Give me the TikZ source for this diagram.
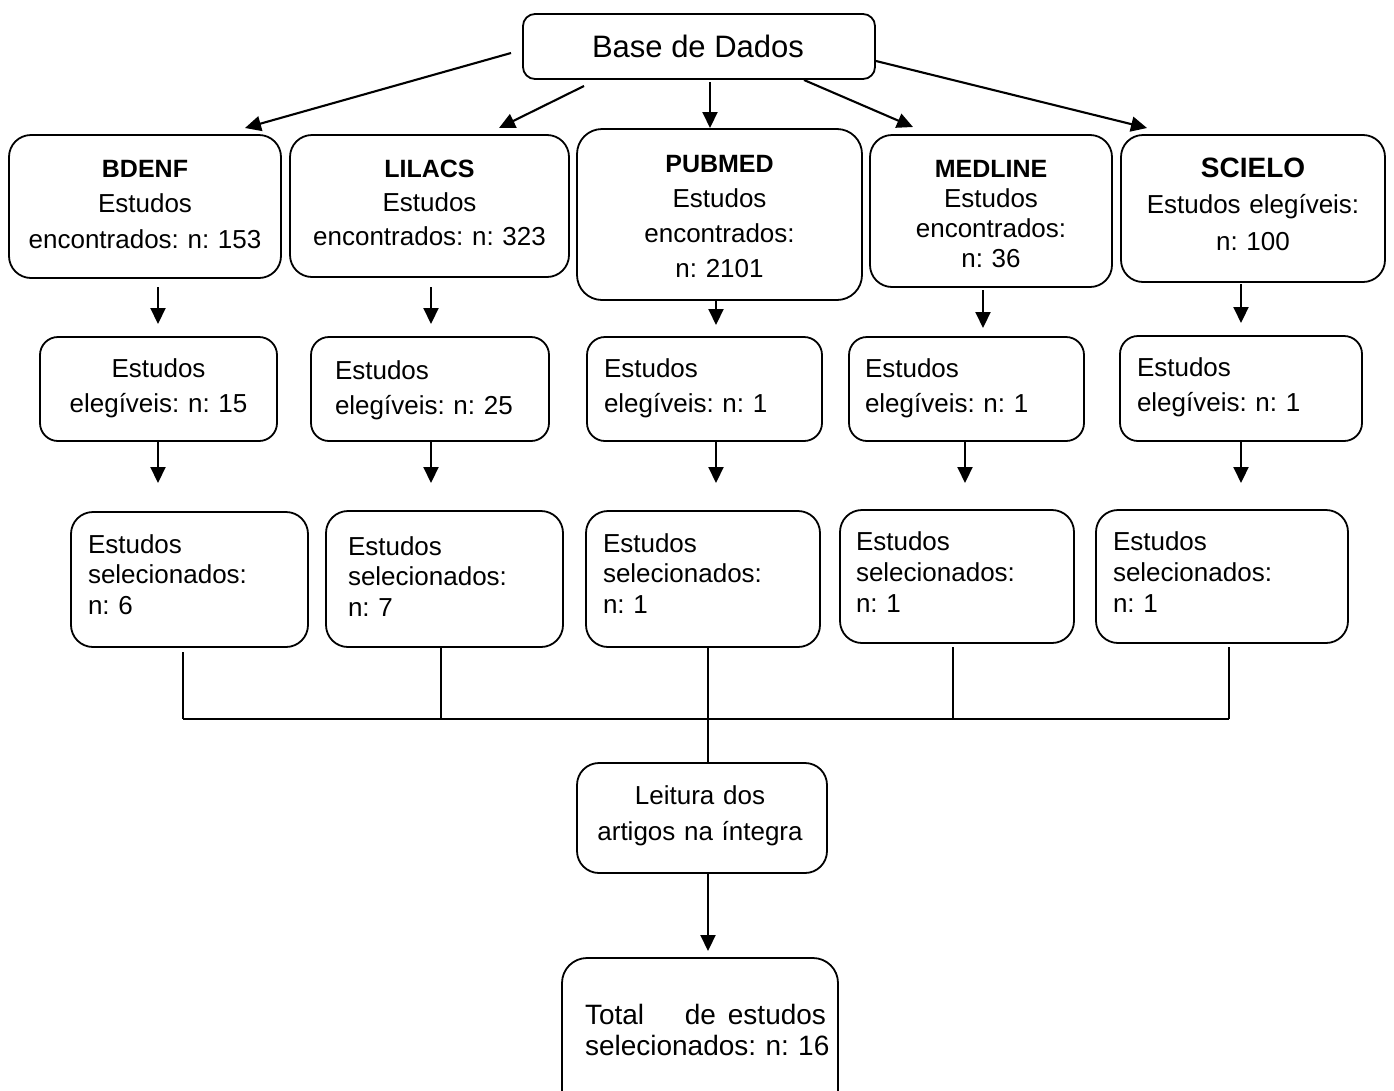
\documentclass[tikz,border=0pt]{standalone}
\usepackage{fontspec}
\setmainfont{Liberation Sans}
\usetikzlibrary{arrows.meta,calc}
\frenchspacing
\begin{document}
\frenchspacing
\begin{tikzpicture}[x=1pt,y=-1pt,
  box/.style={draw, line width=1.8pt, rounded corners=#1, inner sep=0pt, outer sep=0pt},
  box/.default=20pt,
  txt/.style={inner sep=0pt, outer sep=0pt, font=\fontsize{26}{35}\selectfont},
  arr/.style={line width=2.1pt, -{Triangle[length=16pt,width=15pt]}},
  lnk/.style={line width=1.4pt},
]
\fill[white] (0,0) rectangle (1394,1090);
\useasboundingbox (0,0) rectangle (1394,1090);

% ---------- boxes ----------
\node[box=12pt, minimum width=352pt, minimum height=65pt] (base) at (699,46.5) {};

\node[box=22pt, minimum width=272pt, minimum height=143pt] (r1a) at (145,206.5) {};
\node[box=22pt, minimum width=279pt, minimum height=142pt] (r1b) at (429.5,206) {};
\node[box=25pt, minimum width=285pt, minimum height=171pt] (r1c) at (719.5,214.5) {};
\node[box=22pt, minimum width=242pt, minimum height=152pt] (r1d) at (991,211) {};
\node[box=22pt, minimum width=264pt, minimum height=147pt] (r1e) at (1253,208.5) {};

\node[box=18pt, minimum width=237pt, minimum height=104pt] (r2a) at (158.5,389) {};
\node[box=18pt, minimum width=238pt, minimum height=104pt] (r2b) at (430,389) {};
\node[box=18pt, minimum width=235pt, minimum height=104pt] (r2c) at (704.5,389) {};
\node[box=18pt, minimum width=235pt, minimum height=104pt] (r2d) at (966.5,389) {};
\node[box=18pt, minimum width=242pt, minimum height=105pt] (r2e) at (1241,388.5) {};

\node[box=22pt, minimum width=237pt, minimum height=135pt] (r3a) at (189.5,579.5) {};
\node[box=22pt, minimum width=237pt, minimum height=136pt] (r3b) at (444.5,579) {};
\node[box=22pt, minimum width=234pt, minimum height=136pt] (r3c) at (703,579) {};
\node[box=22pt, minimum width=234pt, minimum height=133pt] (r3d) at (957,576.5) {};
\node[box=22pt, minimum width=252pt, minimum height=133pt] (r3e) at (1222,576.5) {};

\node[box=22pt, minimum width=250pt, minimum height=110pt] (lei) at (702,818) {};
\node[box=25pt, minimum width=276pt, minimum height=167pt] (tot) at (700,1041.5) {};

% ---------- texts ----------
\node[txt, anchor=base, font=\fontsize{31}{36}\selectfont] (tbase) at (698,57) {Base de Dados};

\node[txt, anchor=base, text width=268pt, align=center, font=\fontsize{26}{35.5}\selectfont] (t1a) at (145,177)
  {{\fontsize{25}{35.5}\selectfont\bfseries BDENF}\\Estudos\\encontrados: n: 153};
\node[txt, anchor=base, text width=275pt, align=center, font=\fontsize{26}{34}\selectfont] (t1b) at (429.5,177)
  {{\fontsize{25}{34}\selectfont\bfseries LILACS}\\Estudos\\encontrados: n: 323};
\node[txt, anchor=base, text width=280pt, align=center, font=\fontsize{26}{35.3}\selectfont] (t1c) at (719.5,172)
  {{\fontsize{25}{35.3}\selectfont\bfseries PUBMED}\\Estudos\\encontrados:\\n: 2101};
\node[txt, anchor=base, text width=238pt, align=center, font=\fontsize{26}{30.3}\selectfont] (t1d) at (991,177)
  {{\fontsize{25}{30.3}\selectfont\bfseries MEDLINE}\\Estudos\\encontrados:\\n: 36};
\node[txt, anchor=base, text width=260pt, align=center, font=\fontsize{26}{36.5}\selectfont] (t1e) at (1253,177)
  {{\fontsize{28}{36.5}\selectfont\bfseries SCIELO}\\Estudos elegíveis:\\n: 100};

\node[txt, anchor=base, text width=233pt, align=center] (t2a) at (158.5,377) {Estudos\\elegíveis: n: 15};
\node[txt, anchor=base west, text width=205pt, align=left] (t2b) at (335,379) {Estudos\\elegíveis: n: 25};
\node[txt, anchor=base west, text width=205pt, align=left] (t2c) at (604,377) {Estudos\\elegíveis: n: 1};
\node[txt, anchor=base west, text width=205pt, align=left] (t2d) at (865,377) {Estudos\\elegíveis: n: 1};
\node[txt, anchor=base west, text width=205pt, align=left] (t2e) at (1137,376) {Estudos\\elegíveis: n: 1};

\node[txt, anchor=base west, text width=205pt, align=left, font=\fontsize{26}{30.5}\selectfont] (t3a) at (88,553) {Estudos\\selecionados:\\n: 6};
\node[txt, anchor=base west, text width=205pt, align=left, font=\fontsize{26}{30.5}\selectfont] (t3b) at (348,555) {Estudos\\selecionados:\\n: 7};
\node[txt, anchor=base west, text width=205pt, align=left, font=\fontsize{26}{30.5}\selectfont] (t3c) at (603,552) {Estudos\\selecionados:\\n: 1};
\node[txt, anchor=base west, text width=205pt, align=left, font=\fontsize{26}{31}\selectfont] (t3d) at (856,550) {Estudos\\selecionados:\\n: 1};
\node[txt, anchor=base west, text width=205pt, align=left, font=\fontsize{26}{31}\selectfont] (t3e) at (1113,550) {Estudos\\selecionados:\\n: 1};

\node[txt, anchor=base, text width=246pt, align=center, font=\fontsize{26}{36}\selectfont] (tlei) at (700,804) {Leitura dos\\artigos na íntegra};
\node[txt, anchor=base west, text width=260pt, align=left, font=\fontsize{28}{31}\selectfont] (ttot) at (585,1024)
  {\hbox to 241pt{Total\hfill de\hspace{12pt}estudos}\\selecionados: n: 16};

% ---------- arrows from base ----------
\coordinate (s1) at (511,53);   \coordinate (e1) at (245,128);
\coordinate (s2) at (584,86);   \coordinate (e2) at (499,128);
\coordinate (s3) at (710,82);   \coordinate (e3) at (710,128);
\coordinate (s4) at (804,80);   \coordinate (e4) at (913,127);
\coordinate (s5) at (876,61);   \coordinate (e5) at (1147,128);
\draw[arr] (s1) -- (e1);
\draw[arr] (s2) -- (e2);
\draw[arr] (s3) -- (e3);
\draw[arr] (s4) -- (e4);
\draw[arr] (s5) -- (e5);

% ---------- column arrows ----------
\coordinate (ca) at (158,0);
\coordinate (cb) at (431,0);
\coordinate (cc) at (716,0);
\coordinate (cd) at (983,0);
\coordinate (cdd) at (965,0);
\coordinate (ce) at (1241,0);

\draw[arr, shorten <=9pt, shorten >=13pt] (r1a.south -| ca) -- (r2a.north -| ca);
\draw[arr, shorten <=10pt, shorten >=13pt] (r1b.south -| cb) -- (r2b.north -| cb);
\draw[arr, shorten <=1pt, shorten >=12pt] (r1c.south -| cc) -- (r2c.north -| cc);
\draw[arr, shorten <=3pt, shorten >=9pt] (r1d.south -| cd) -- (r2d.north -| cd);
\draw[arr, shorten <=2pt, shorten >=13pt] (r1e.south -| ce) -- (r2e.north -| ce);

\draw[arr, shorten >=29pt] (r2a.south -| ca) -- (r3a.north -| ca);
\draw[arr, shorten >=28pt] (r2b.south -| cb) -- (r3b.north -| cb);
\draw[arr, shorten >=28pt] (r2c.south -| cc) -- (r3c.north -| cc);
\draw[arr, shorten >=27pt] (r2d.south -| cdd) -- (r3d.north -| cdd);
\draw[arr, shorten >=27pt] (r2e.south -| ce) -- (r3e.north -| ce);

% ---------- merge lines ----------
\coordinate (la) at (183,0);
\coordinate (lb) at (441,0);
\coordinate (lc) at (708,0);
\coordinate (ld) at (953,0);
\coordinate (le) at (1229,0);
\coordinate (hub) at (708,719);

\draw[lnk, shorten <=5pt] (r3a.south -| la) -- (hub -| la);
\draw[lnk, shorten <=1pt] (r3b.south -| lb) -- (hub -| lb);
\draw[lnk, shorten <=4pt] (r3d.south -| ld) -- (hub -| ld);
\draw[lnk, shorten <=4pt] (r3e.south -| le) -- (hub -| le);
\draw[line width=1.9pt] (hub -| la) -- (hub -| le);
\draw[line width=1.8pt, shorten <=1pt] (r3c.south -| lc) -- (lei.north -| lc);

\draw[arr, shorten >=7pt] (lei.south -| lc) -- (tot.north -| lc);
\end{tikzpicture}
\end{document}
